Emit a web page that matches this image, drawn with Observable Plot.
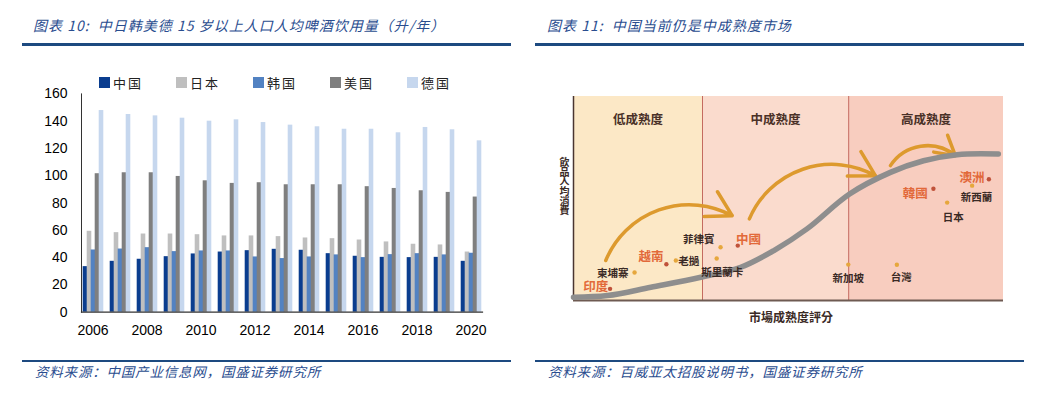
<!DOCTYPE html>
<html><head><meta charset="utf-8">
<script src="https://cdn.jsdelivr.net/npm/d3@7"></script>
<script src="https://cdn.jsdelivr.net/npm/@observablehq/plot@0.6"></script>
<style>
html,body{margin:0;padding:0;background:#fff;}
#page{position:relative;width:1054px;height:393px;overflow:hidden;font-family:"Noto Sans CJK SC",sans-serif;}
.title{position:absolute;top:15px;font-size:14px;letter-spacing:1px;font-style:italic;color:#2a4d8f;white-space:nowrap;line-height:20px;}
.rule{position:absolute;background:#1d4a80;}
.src{position:absolute;top:362px;font-size:13.5px;letter-spacing:0.8px;font-style:italic;color:#2a4d8f;white-space:nowrap;line-height:18px;}
.chart{position:absolute;}
#legend{position:absolute;left:99px;top:74px;display:flex;font-size:13px;letter-spacing:2px;color:#222;line-height:17px;}
#legend .item{flex:0 0 77px;display:flex;align-items:center;}
#legend .sw{width:11px;height:11px;margin-right:3px;}
#ylab{position:absolute;left:557px;top:157px;writing-mode:vertical-rl;text-orientation:upright;font-family:"Noto Sans CJK TC",sans-serif;font-weight:700;font-size:10px;letter-spacing:-0.3px;color:#3b2b26;}
#xlab{position:absolute;left:731px;width:120px;top:308px;text-align:center;font-family:"Noto Sans CJK TC",sans-serif;font-weight:700;font-size:12px;color:#3b2b26;}
</style></head>
<body>
<div id="page">
  <div class="title" style="left:33px">图表 10:&nbsp; 中日韩美德 15 岁以上人口人均啤酒饮用量（升/年）</div>
  <div class="rule" style="left:22px;top:43px;width:489px;height:2.5px"></div>
  <div class="title" style="left:547px">图表 11:&nbsp; 中国当前仍是中成熟度市场</div>
  <div class="rule" style="left:535px;top:43px;width:489px;height:2.5px"></div>
  <div id="legend"></div>
  <div id="c1" class="chart" style="left:30px;top:75px"></div>
  <div id="c2" class="chart" style="left:540px;top:85px"></div>
  <div id="ylab">飲品人均消費</div>
  <div id="xlab">市場成熟度評分</div>
  <div class="rule" style="left:22px;top:360px;width:489px;height:2px"></div>
  <div class="rule" style="left:535px;top:360px;width:489px;height:2px"></div>
  <div class="src" style="left:35px">资料来源：中国产业信息网，国盛证券研究所</div>
  <div class="src" style="left:548px">资料来源：百威亚太招股说明书，国盛证券研究所</div>
</div>
<script>
// ---------- Left chart data ----------
const years = [2006, 2007, 2008, 2009, 2010, 2011, 2012, 2013, 2014, 2015, 2016, 2017, 2018, 2019, 2020];
const yearTicks = [2006, 2008, 2010, 2012, 2014, 2016, 2018, 2020];
const yTicks = [0, 20, 40, 60, 80, 100, 120, 140, 160];
const series = ["中国", "日本", "韩国", "美国", "德国"];
const china   = [33.4, 37.3, 38.8, 40.7, 42.7, 44.1, 45.1, 46.1, 45.4, 42.9, 41.0, 40.2, 40.0, 40.2, 37.3];
const japan   = [59.3, 58.3, 57.3, 57.3, 56.8, 55.9, 55.9, 55.4, 54.4, 53.9, 52.9, 51.5, 49.8, 49.3, 44.1];
const korea   = [45.6, 46.3, 47.3, 44.4, 44.9, 44.9, 40.5, 39.3, 40.5, 42.0, 40.0, 42.2, 42.9, 42.0, 43.2];
const usa     = [101.5, 102.2, 102.2, 99.5, 96.3, 94.4, 94.9, 93.4, 93.4, 93.4, 92.0, 90.7, 89.0, 87.8, 84.4];
const germany = [147.8, 144.9, 143.9, 142.2, 140.0, 141.0, 139.0, 137.1, 135.9, 134.1, 134.1, 131.5, 135.4, 133.7, 125.6];

// ---------- Right chart data (scores 0–100) ----------
const zoneNames = ["低成熟度", "中成熟度", "高成熟度"];
const zoneBreaks = [0, 30, 64, 100];
const curveX = [0, 7.9, 18.0, 29.6, 38.9, 46.6, 54.3, 64.2, 73.7, 81.4, 89.2, 98.8];
const curveY = [1.6, 2.4, 6.5, 11.4, 16.3, 24.5, 35.1, 52.2, 62.8, 68.5, 71.5, 71.8];
const countries = ["印度", "柬埔寨", "越南", "老撾", "菲律賓", "斯里蘭卡", "中國", "新加坡", "台灣", "韓國", "日本", "新西蘭", "澳洲"];
const dotX   = [8.5, 14.2, 21.6, 23.8, 34.2, 33.3, 38.2, 63.9, 75.2, 83.7, 86.9, 92.7, 96.6];
const dotY   = [5.7, 13.7, 17.8, 19.6, 26.1, 20.6, 26.9, 17.6, 17.5, 54.8, 48.0, 56.3, 59.4];
const labelX = [5.2, 9.1, 18.0, 26.8, 29.1, 34.6, 40.7, 63.9, 76.2, 79.5, 88.3, 93.7, 92.7];
const labelY = [6.4, 13.4, 21.2, 19.1, 29.9, 13.9, 29.9, 10.8, 11.4, 52.4, 40.8, 50.6, 60.1];
const focus = ["印度", "越南", "中國", "韓國", "澳洲"];
const arrowFromX = [7.5, 40.9, 73.7];
const arrowFromY = [19.6, 40.0, 66.1];
const arrowToX   = [36.9, 70.2, 88.8];
const arrowToY   = [41.6, 61.2, 71.0];

// ---------- styles ----------
const barColors = ["#0a3d8f", "#bfbfbf", "#5282c2", "#7f7f7f", "#c6d7ee"];
const zoneFills = ["#fce8c6", "#fadbcd", "#f8cdbf"];

// legend
const legend = document.getElementById("legend");
series.forEach((s, i) => {
  const it = document.createElement("div"); it.className = "item";
  const sw = document.createElement("div"); sw.className = "sw"; sw.style.background = barColors[i];
  const tx = document.createElement("span"); tx.textContent = s;
  it.append(sw, tx); legend.append(it);
});

const values = [china, japan, korea, usa, germany];
const rows = years.flatMap((yr, i) => series.map((s, j) => ({year: yr, country: s, value: values[j][i]})));

const p1 = Plot.plot({
  width: 470, height: 270,
  marginLeft: 48, marginRight: 15.5, marginTop: 18.4, marginBottom: 33.3,
  style: {fontFamily: "'Liberation Sans', Arial, sans-serif", fontSize: "14px", color: "#000", background: "transparent", overflow: "visible"},
  fx: {domain: years, paddingInner: 0.14, paddingOuter: 0.07, label: null, axis: "bottom", ticks: yearTicks, tickFormat: d => String(d), tickSize: 0, tickPadding: 13},
  x: {domain: series, padding: 0, axis: null},
  y: {domain: [0, 160], ticks: yTicks, tickSize: 0, tickPadding: 14, label: null},
  color: {domain: series, range: barColors},
  marks: [
    Plot.barY(rows, {fx: "year", x: "country", y: "value", fill: "country", insetLeft: -0.3, insetRight: -0.3}),
    Plot.frame({anchor: "bottom", stroke: "#333", strokeWidth: 1.2, facet: "super"}),
    Plot.frame({anchor: "left", stroke: "#333", facet: "super"})
  ]
});
document.getElementById("c1").append(p1);

// right chart
const zones = zoneNames.map((n, i) => ({name: n, x1: zoneBreaks[i], x2: zoneBreaks[i + 1], fill: zoneFills[i]}));
const curve = curveX.map((x, i) => ({x, y: curveY[i]}));
const pts = countries.map((c, i) => ({name: c, x: dotX[i], y: dotY[i], lx: labelX[i], ly: labelY[i], focus: focus.includes(c)}));
const arrows = arrowFromX.map((x, i) => ({x1: x, y1: arrowFromY[i], x2: arrowToX[i], y2: arrowToY[i]}));

const p2 = Plot.plot({
  width: 480, height: 240,
  marginLeft: 33, marginRight: 17, marginTop: 11, marginBottom: 25,
  x: {domain: [0, 100], axis: null},
  y: {domain: [0, 100], axis: null},
  color: {type: "identity"},
  style: {fontFamily: "'Noto Sans CJK TC', sans-serif", background: "transparent", overflow: "visible"},
  marks: [
    Plot.rect(zones, {x1: "x1", x2: "x2", fill: "fill"}),
    Plot.ruleX(zoneBreaks.slice(1, 3), {stroke: "#c46b60", strokeWidth: 1}),
    Plot.ruleX([0], {stroke: "#4a3530", strokeWidth: 1.5}),
    Plot.ruleY([0], {stroke: "#6e5a52", strokeWidth: 2}),
    Plot.text(zones, {x: d => (d.x1 + d.x2) / 2, text: "name", frameAnchor: "top", dy: 19, fontSize: 12.5, fontWeight: "bold", fill: "#4a3128"}),
    Plot.arrow(arrows, {x1: "x1", y1: "y1", x2: "x2", y2: "y2", bend: 48, stroke: "#dd9a2e", strokeWidth: 3.5, headLength: 12}),
    Plot.line(curve, {x: "x", y: "y", curve: "catmull-rom", stroke: "#8e8e8e", strokeWidth: 5.5, strokeLinecap: "round"}),
    Plot.dot(pts, {x: "x", y: "y", r: 2.2, fill: d => d.focus ? "#c0523a" : "#e6a73d"}),
    Plot.text(pts, {x: "lx", y: "ly", text: "name", fill: d => d.focus ? "#e2693a" : "#3a2a25", fontSize: d => d.focus ? 12.5 : 10.5, fontWeight: "bold"})
  ]
});
document.getElementById("c2").append(p2);
</script>
</body></html>
